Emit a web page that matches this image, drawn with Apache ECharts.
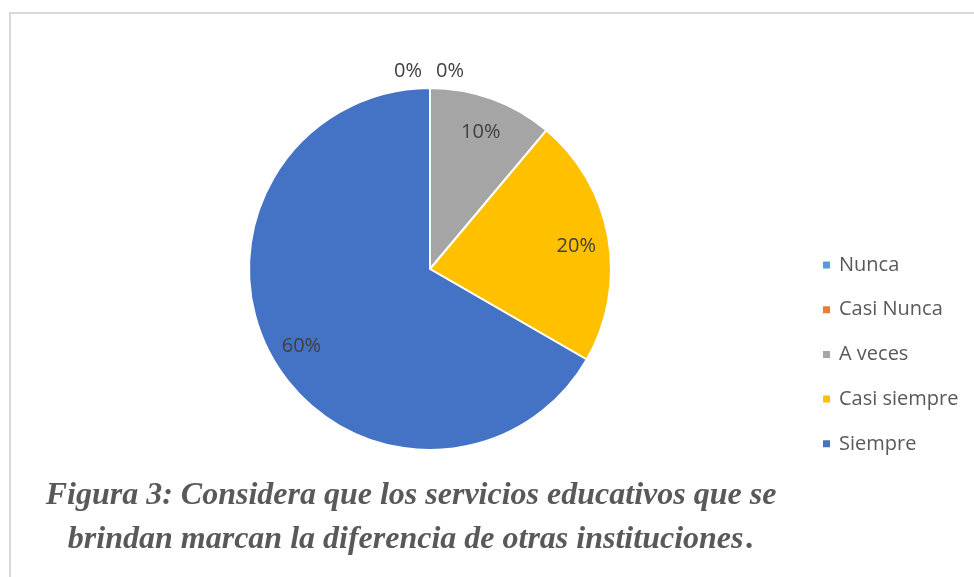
<!DOCTYPE html>
<html>
<head>
<meta charset="utf-8">
<script src="https://cdn.jsdelivr.net/npm/echarts@6/dist/echarts.min.js"></script>
<style>
  html, body { margin: 0; padding: 0; background: #fff; }
  #chart { width: 974px; height: 577px; }
</style>
</head>
<body>
<div id="chart"></div>
<script>
// datos
var categorias = ['Nunca', 'Casi Nunca', 'A veces', 'Casi siempre', 'Siempre']
var porcentajes = [0, 0, 10, 20, 60]
var colores = ['#5B9BD5', '#ED7D31', '#A5A5A5', '#FFC000', '#4472C4']
var titulo = 'Figura 3: Considera que los servicios educativos que se\nbrindan marcan la diferencia de otras instituciones\u200A.'

var chart = echarts.init(document.getElementById('chart'))

var centro = [430, 269]
var radio = 181

// serie principal: sectores y etiquetas de los valores en cero (fuera del pastel)
var datosPie = categorias.map(function (c, i) {
  return {
    name: c,
    value: porcentajes[i],
    label: { show: porcentajes[i] === 0 }
  }
})

// serie solo para las etiquetas dentro de los sectores
var datosEtiq = categorias.map(function (c, i) {
  return {
    name: c,
    value: porcentajes[i],
    label: { show: porcentajes[i] !== 0 }
  }
})

var option = {
  animation: false,
  color: colores,
  legend: {
    orient: 'vertical',
    left: 816,
    top: 250,
    icon: 'rect',
    itemWidth: 9,
    itemHeight: 9,
    itemGap: 24.7,
    textStyle: {
      fontFamily: 'Open Sans',
      fontSize: 20,
      lineHeight: 20,
      color: '#595959',
      padding: [0, 0, 0, 3]
    },
    data: categorias
  },
  graphic: [
    {
      type: 'rect',
      silent: true,
      shape: { x: 10, y: 13, width: 1200, height: 1000 },
      style: { fill: 'none', stroke: '#d9d9d9', lineWidth: 2 }
    },
    {
      type: 'text',
      x: 411,
      y: 474,
      style: {
        text: titulo,
        fontFamily: 'Liberation Serif',
        fontStyle: 'italic',
        fontWeight: 'bold',
        fontSize: 32,
        lineHeight: 44,
        fill: '#595959',
        align: 'center',
        verticalAlign: 'top'
      }
    }
  ],
  series: [
    {
      type: 'pie',
      center: centro,
      radius: radio,
      startAngle: 90,
      clockwise: true,
      avoidLabelOverlap: false,
      itemStyle: { borderColor: '#fff', borderWidth: 2 },
      label: {
        position: 'outside',
        formatter: '{c}%',
        fontFamily: 'Open Sans',
        fontSize: 20,
        color: '#404040'
      },
      labelLine: { show: false, length: 17, length2: 0 },
      labelLayout: function (params) {
        if (params.dataIndex === 0) return { dx: -17, align: 'center' }
        if (params.dataIndex === 1) return { dx: 25, align: 'center' }
      },
      emphasis: { disabled: true },
      data: datosPie
    },
    {
      type: 'pie',
      center: centro,
      radius: [110, radio],
      startAngle: 90,
      clockwise: true,
      silent: true,
      itemStyle: { color: 'transparent', borderWidth: 0 },
      label: {
        position: 'inside',
        formatter: '{c}%',
        fontFamily: 'Open Sans',
        fontSize: 20,
        color: '#404040'
      },
      labelLine: { show: false },
      labelLayout: { dy: 3 },
      emphasis: { disabled: true },
      data: datosEtiq
    }
  ]
}

chart.setOption(option)
</script>
</body>
</html>
